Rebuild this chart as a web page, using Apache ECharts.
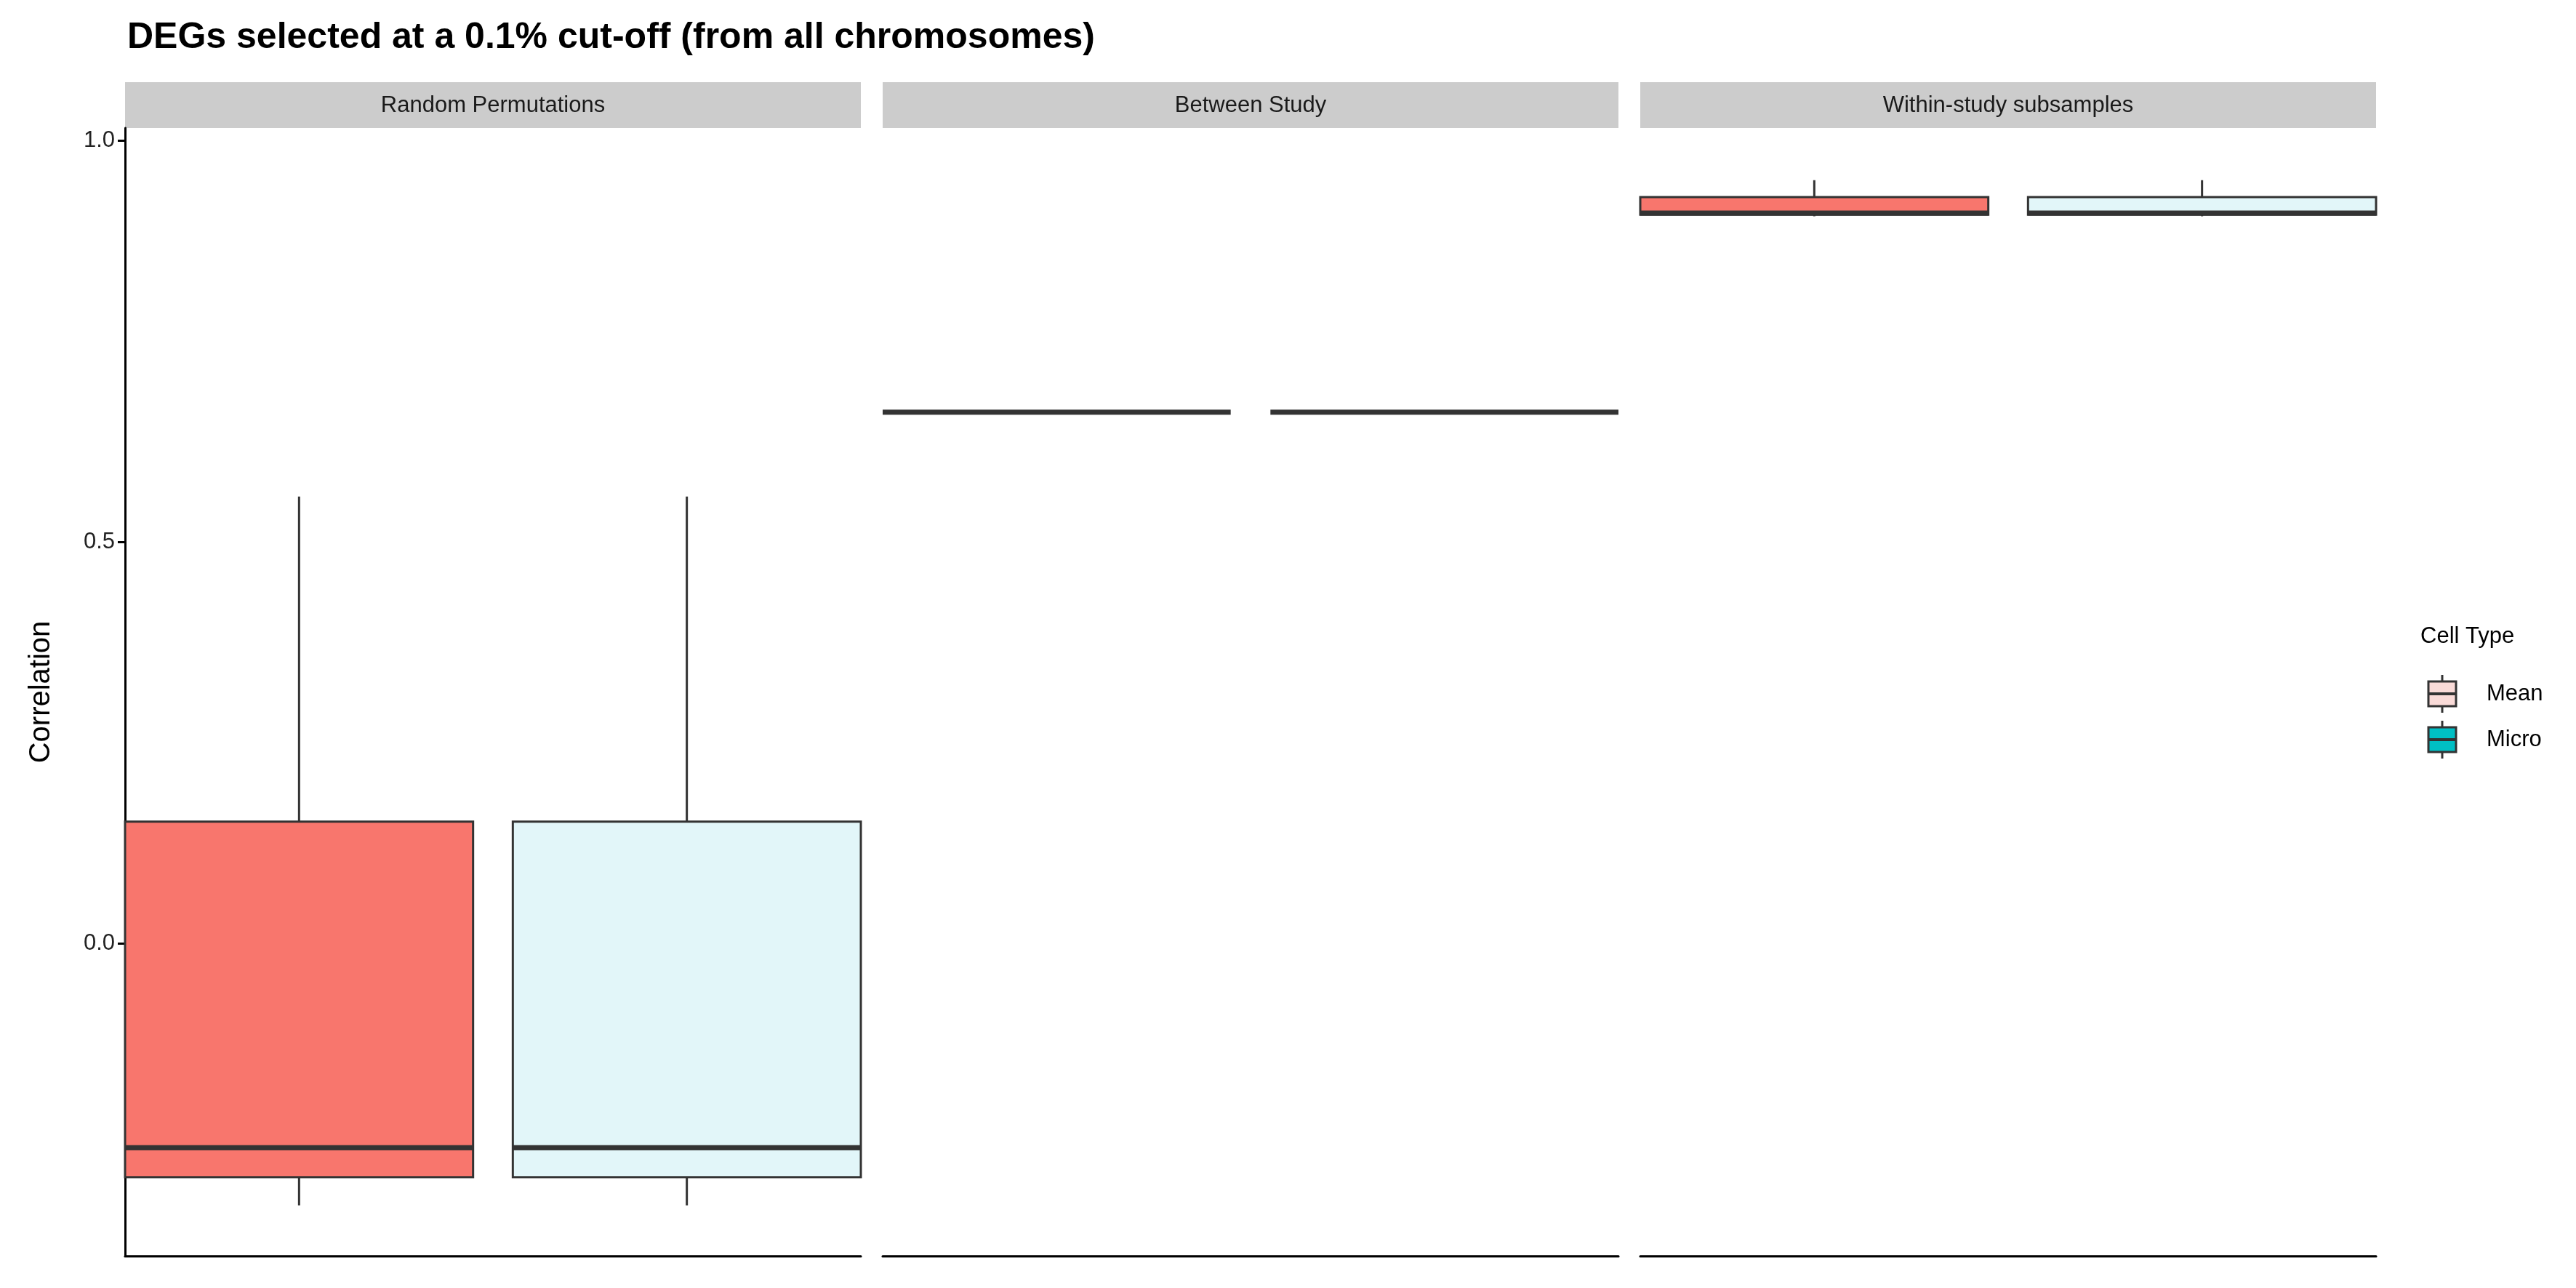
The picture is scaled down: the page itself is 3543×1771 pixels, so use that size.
<!DOCTYPE html>
<html><head><meta charset="utf-8">
<script src="https://cdn.jsdelivr.net/npm/echarts@6/dist/echarts.min.js"></script>
<style>html,body{margin:0;padding:0;background:#fff}#c{width:3543px;height:1771px}</style>
</head><body><div id="c"></div>
<script>
const panels = ['Random Permutations', 'Between Study', 'Within-study subsamples'];
const cellTypes = ['Mean', 'Micro'];
// per panel: [Mean, Micro] values
const whiskerLow = [[-0.326, -0.326], [0.662, 0.662], [0.906, 0.906]];
const q1 = [[-0.291, -0.291], [0.662, 0.662], [0.908, 0.908]];
const median = [[-0.254, -0.254], [0.662, 0.662], [0.910, 0.910]];
const q3 = [[0.152, 0.152], [0.662, 0.662], [0.930, 0.930]];
const whiskerHigh = [[0.557, 0.557], [0.662, 0.662], [0.951, 0.951]];
const yTicks = [0, 0.5, 1.0];
const fills = ['#F8766D', '#E2F6F9'];

const chart = echarts.init(document.getElementById('c'));
const lefts = [172, 1214, 2256], W = 1012, TOP = 176, H = 1551;
const grids = [], xAxes = [], yAxes = [], series = [], graphics = [];
panels.forEach((p, i) => {
  grids.push({left: lefts[i], top: TOP, width: W, height: H});
  xAxes.push({type: 'value', gridIndex: i, min: 0, max: 1, axisLine: {show: true, onZero: false, lineStyle: {color: '#000', width: 3}},
    axisTick: {show: false}, axisLabel: {show: false}, splitLine: {show: false}});
  yAxes.push({type: 'value', gridIndex: i, min: -0.389, max: 1.016,
    axisLine: {show: i === 0, lineStyle: {color: '#000', width: 3}},
    axisTick: {show: i === 0, customValues: yTicks, length: 10, lineStyle: {color: '#000', width: 3}},
    axisLabel: {show: i === 0, customValues: yTicks, formatter: v => v.toFixed(1), fontSize: 31, color: '#222', margin: 14, fontFamily: 'Liberation Sans'},
    splitLine: {show: false},
    name: i === 0 ? 'Correlation' : '', nameLocation: 'middle', nameGap: 95, nameRotate: 90,
    nameTextStyle: {fontSize: 40, color: '#000', fontFamily: 'Liberation Sans'}});
  graphics.push({type: 'rect', shape: {x: lefts[i], y: 113, width: W, height: 63}, style: {fill: '#CCCCCC'}});
  graphics.push({type: 'text', x: lefts[i] + W / 2, y: 145, style: {text: p, fontSize: 31, fill: '#1a1a1a', align: 'center', verticalAlign: 'middle', fontFamily: 'Liberation Sans'}});
  cellTypes.forEach((ct, k) => {
    series.push({type: 'custom', name: ct, xAxisIndex: i, yAxisIndex: i,
      data: [[k, whiskerLow[i][k], q1[i][k], median[i][k], q3[i][k], whiskerHigh[i][k]]],
      renderItem: (params, api) => {
        const idx = api.value(0);
        const x0 = idx === 0 ? 0 : 0.527, x1 = idx === 0 ? 0.473 : 1;
        const pL = api.coord([x0, api.value(3)]), pR = api.coord([x1, api.value(3)]);
        const xc = (pL[0] + pR[0]) / 2;
        const yMin = api.coord([0, api.value(1)])[1], yQ1 = api.coord([0, api.value(2)])[1];
        const yQ3 = api.coord([0, api.value(4)])[1], yMax = api.coord([0, api.value(5)])[1];
        const st = {stroke: '#333', lineWidth: 3};
        const ch = [
          {type: 'line', shape: {x1: xc, y1: yMax, x2: xc, y2: yQ3}, style: st},
          {type: 'line', shape: {x1: xc, y1: yQ1, x2: xc, y2: yMin}, style: st}];
        if (yQ1 - yQ3 > 0.5) ch.push({type: 'rect', shape: {x: pL[0], y: yQ3, width: pR[0] - pL[0], height: yQ1 - yQ3}, style: {fill: fills[idx], stroke: '#333', lineWidth: 3}});
        ch.push({type: 'line', shape: {x1: pL[0], y1: pL[1], x2: pR[0], y2: pL[1]}, style: {stroke: '#333', lineWidth: 7}});
        return {type: 'group', children: ch};
      }});
  });
});
// legend
graphics.push({type: 'text', x: 3329, y: 875, style: {text: 'Cell Type', fontSize: 31, fill: '#000', verticalAlign: 'middle', fontFamily: 'Liberation Sans'}});
const legFill = ['#FADBD8', '#00BFC4'];
cellTypes.forEach((ct, k) => {
  const cy = 954 + k * 63;
  graphics.push({type: 'line', shape: {x1: 3359, y1: cy - 26, x2: 3359, y2: cy + 26}, style: {stroke: '#333', lineWidth: 3}});
  graphics.push({type: 'rect', shape: {x: 3340, y: cy - 17, width: 38, height: 34}, style: {fill: legFill[k], stroke: '#333', lineWidth: 3}});
  graphics.push({type: 'line', shape: {x1: 3340, y1: cy, x2: 3378, y2: cy}, style: {stroke: '#333', lineWidth: 4}});
  graphics.push({type: 'text', x: 3420, y: cy, style: {text: ct, fontSize: 31, fill: '#000', verticalAlign: 'middle', fontFamily: 'Liberation Sans'}});
});
chart.setOption({
  animation: false, backgroundColor: '#fff',
  title: {text: 'DEGs selected at a 0.1% cut-off (from all chromosomes)', left: 170, top: 22,
    textStyle: {fontSize: 50, fontWeight: 'bold', color: '#000', fontFamily: 'Liberation Sans'}},
  grid: grids, xAxis: xAxes, yAxis: yAxes, series: series, graphic: graphics
});
</script></body></html>
